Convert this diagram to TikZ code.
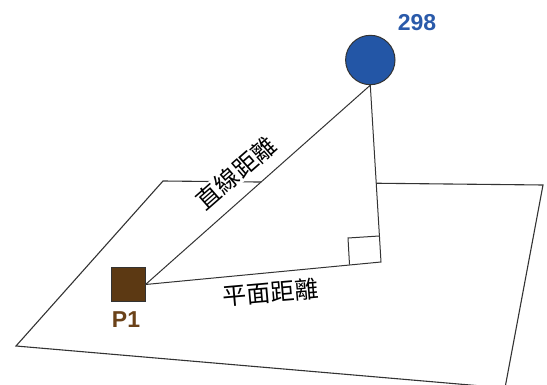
\documentclass[tikz,border=0pt]{standalone}
\usepackage{fontspec}
\newfontfamily\cjk{Noto Sans CJK SC}
\newfontfamily\lab{Liberation Sans}
\definecolor{ballblue}{HTML}{2356A6}
\definecolor{boxbrown}{HTML}{5C3913}
\definecolor{labbrown}{HTML}{6B4219}
\definecolor{labblue}{HTML}{2A5AAA}
\definecolor{edge}{HTML}{333333}
\tikzset{
  planeline/.style={draw=edge, line width=1.1pt},
  distline/.style={draw=edge, line width=1pt},
  cjklabel/.style={font=\cjk\fontsize{24}{26}\selectfont, inner sep=0.5pt},
  ptlabel/.style={font=\lab\bfseries\fontsize{23}{26}\selectfont, inner sep=0pt},
}
\begin{document}
\begin{tikzpicture}[x=1pt,y=-1pt]
\useasboundingbox (0,0) rectangle (547,385);
\begin{scope}
\clip (0,0) rectangle (547,385);
\draw[planeline] (163,181) -- (543,185) -- (505,388) -- (16,346) -- cycle;
\end{scope}
\node[draw=edge, line width=1pt, fill=ballblue, circle, minimum size=49.4pt, inner sep=0pt] (n298) at (370.3,60) {};
\node[draw=edge, line width=1pt, fill=boxbrown, minimum size=34pt, inner sep=0pt] (p1) at (128,284.5) {};
\coordinate (foot) at (381,262);
\fill[white] (p1.east) -- (n298.south) -- (foot) -- cycle;
\draw[distline] (p1.east) -- (n298.south) -- (foot) -- (p1.east);
\coordinate (ra1) at (379.3,236);
\coordinate (ra2) at (348,238);
\coordinate (ra3) at (349.5,264.7);
\draw[distline] (ra1) -- (ra2) -- (ra3);
\node[cjklabel, fill=white, rotate=41.2] (direct) at (236,173) {直線距離};
\node[cjklabel, rotate=5] (flat) at (271,292) {平面距離};
\node[ptlabel, text=labblue] (l298) at (417,23) {298};
\node[ptlabel, text=labbrown] (lp1) at (126,320) {P1};
\end{tikzpicture}
\end{document}
